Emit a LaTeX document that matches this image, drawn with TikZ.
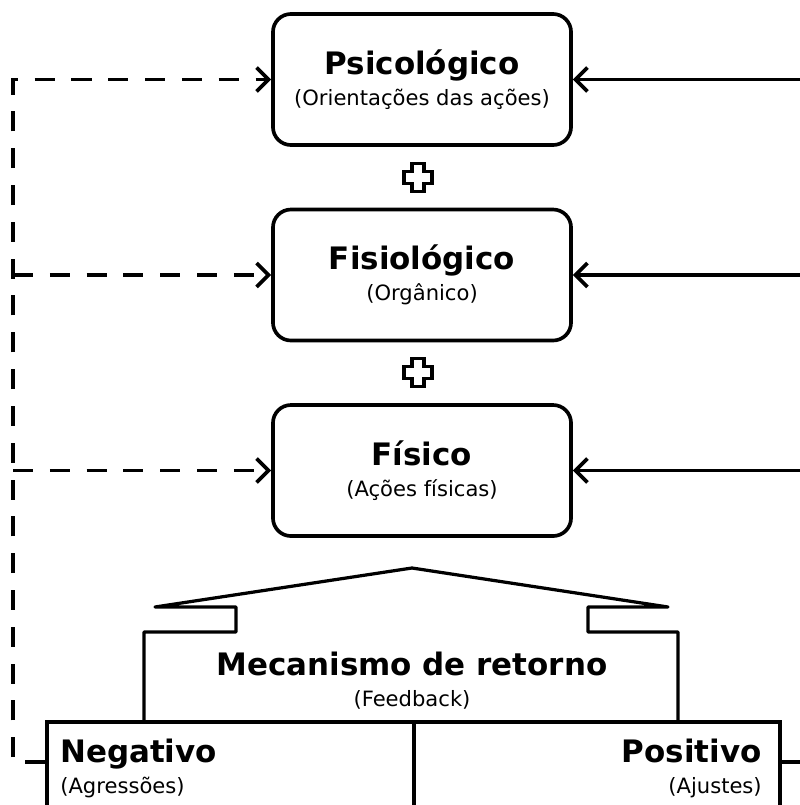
\documentclass[tikz,border=0pt]{standalone}
\usepackage{fontspec}
\setmainfont{DejaVu Sans}
\usetikzlibrary{arrows.meta,positioning,calc}

\newcommand{\ttl}[1]{{\fontsize{22}{26}\selectfont\bfseries #1}}

\tikzset{
	level/.style={draw, line width=2.6pt, rounded corners=0.45cm, minimum width=7.45cm, minimum height=3.275cm, align=center, font=\fontsize{15}{22}\selectfont},
	half/.style={draw, line width=2.5pt, minimum height=3cm, anchor=north west},
	lbl/.style={inner sep=0pt, font=\fontsize{15}{22}\selectfont},
	solidarrow/.style={line width=2.6pt, ->},
	dasharrow/.style={line width=2.6pt, dash pattern=on 0.5cm off 0.42cm},
	plus/.style={line width=2.4pt, line join=miter},
	roof/.style={line width=2.3pt, line join=round}
}

\begin{document}
\begin{tikzpicture}[x=0.025cm, y=-0.025cm, >={Straight Barb[length=0.3cm, width=0.6cm]}]
	\useasboundingbox (0,0) rectangle (800,805);
	\clip (0,0) rectangle (800,805);

	% Levels
	\node[level] (psico) at (422,79.5) {\ttl{Psicológico}\\(Orientações das ações)};
	\node[level, below=1.52cm of psico] (fisio) {\ttl{Fisiológico}\\(Orgânico)};
	\node[level, below=1.52cm of fisio] (fisico) {\ttl{Físico}\\(Ações físicas)};

	% Plus signs
	\foreach \py in {177.5,372.5}
		\draw[plus] (418,\py) ++(-6,-14) -- ++(12,0) -- ++(0,8) -- ++(8,0) -- ++(0,12) -- ++(-8,0) -- ++(0,8) -- ++(-12,0) -- ++(0,-8) -- ++(-8,0) -- ++(0,-12) -- ++(8,0) -- cycle;

	% Feedback house
	\draw[roof] (144,720) -- (144,632) -- (236,632) -- (236,607) -- (155,607) -- (412,568)
		-- (668,607) -- (588,607) -- (588,632) -- (678,632) -- (678,720);
	\node[lbl, anchor=north, align=center] (mec) at (412,651.5) {\ttl{Mecanismo de retorno}\\(Feedback)};

	% Negative / positive
	\node[half, minimum width=9.175cm] (neg) at (45,720) {};
	\node[half, minimum width=9.15cm] (pos) at (412,720) {};
	\node[lbl, anchor=north west, align=left] (negtxt) at (60,738.5) {\ttl{Negativo}\\(Agressões)};
	\node[lbl, anchor=north east, align=right] (postxt) at (762,738.5) {\ttl{Positivo}\\(Ajustes)};

	% Connectors
	\coordinate (lft) at (13,0);
	\coordinate (rgt) at (800,0);
	\coordinate (negL) at (45,762);
	\coordinate (posR) at (778,762);

	\draw[dasharrow, ->] (negL) -- (negL -| lft) |- (psico.west);
	\draw[dasharrow, ->] (fisio.west -| lft) -- (fisio.west);
	\draw[dasharrow, ->] (fisico.west -| lft) -- (fisico.west);

	\draw[solidarrow] (psico.east -| rgt) -- (psico.east);
	\draw[solidarrow] (fisio.east -| rgt) -- (fisio.east);
	\draw[solidarrow] (fisico.east -| rgt) -- (fisico.east);
	\draw[line width=2.5pt] (posR) -- (posR -| rgt);
\end{tikzpicture}
\end{document}
